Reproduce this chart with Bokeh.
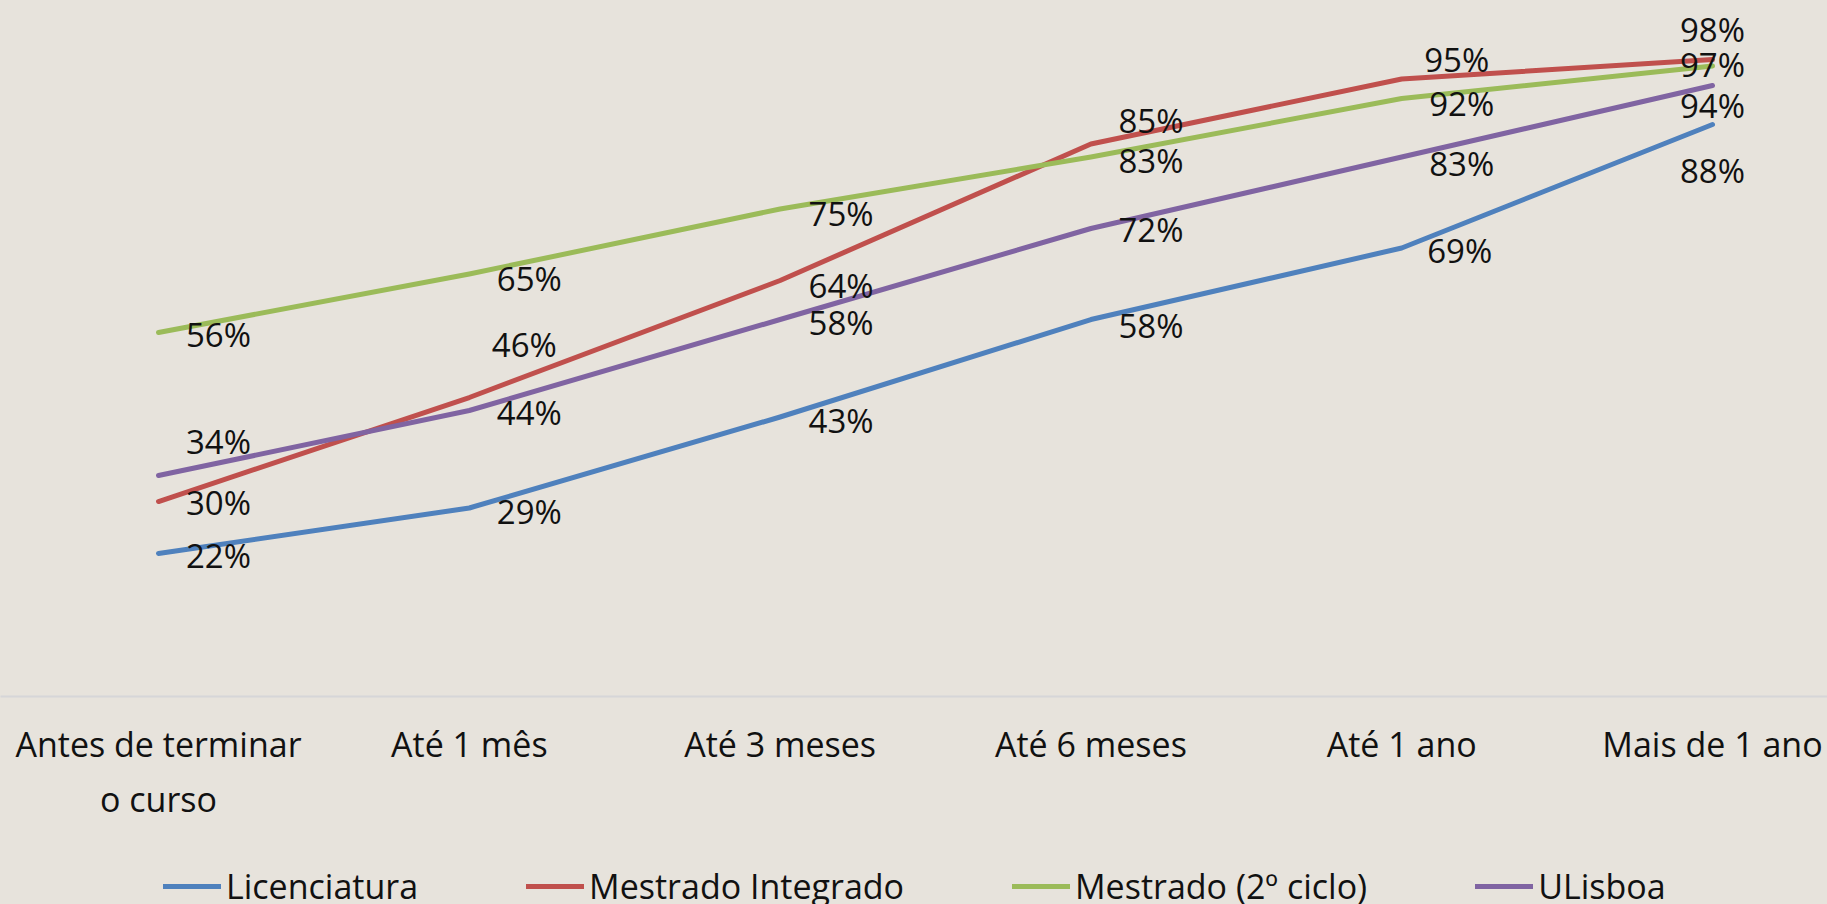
from bokeh.plotting import figure
from bokeh.layouts import column
from bokeh.models import ColumnDataSource, Range1d, FixedTicker, Legend, LegendItem
from bokeh.core.properties import value
from bokeh.embed import file_html
from bokeh.resources import INLINE

# ---------------- data ----------------
categories = ["Antes de terminar\no curso", "Até 1 mês", "Até 3 meses",
              "Até 6 meses", "Até 1 ano", "Mais de 1 ano"]
series_names = ["Licenciatura", "Mestrado Integrado", "Mestrado (2º ciclo)", "ULisboa"]
licenciatura = [22, 29, 43, 58, 69, 88]
mestrado_integrado = [30, 46, 64, 85, 95, 98]
mestrado_2ciclo = [56, 65, 75, 83, 92, 97]
ulisboa = [34, 44, 58, 72, 83, 94]

# ---------------- style ----------------
colors = ["#4F81BD", "#C0504D", "#9BBB59", "#8064A2"]
BG = "#E7E3DC"
FONT = "Open Sans"
TXT = "#111111"

# data-label offsets in screen pixels (dx right, dy down)
label_dx = [
    [60, 60, 61, 60, 58, 0],
    [60, 55, 61, 60, 55, 0],
    [60, 60, 61, 60, 60, 0],
    [60, 60, 61, 60, 60, 0],
]
label_dy = [
    [2, 3, 3, 6, 2, 46],
    [1, -53, 5, -24, -20, -30],
    [2, 4, 4, 3, 5, -2],
    [-34, 2, 3, 1, 6, 20],
]

all_series = [licenciatura, mestrado_integrado, mestrado_2ciclo, ulisboa]
xs = list(range(len(categories)))

W = 1827
MAIN_H = 852
LEG_H = 904 - MAIN_H

p = figure(width=W, height=MAIN_H, output_backend="svg", toolbar_location=None,
           x_range=Range1d(-0.5084, 5.3700), y_range=Range1d(0, 107.08),
           y_axis_location=None,
           min_border_left=0, min_border_right=0, min_border_top=0,
           min_border_bottom=MAIN_H - 696)
p.background_fill_color = BG
p.border_fill_color = BG
p.outline_line_color = None
p.xgrid.visible = False
p.ygrid.visible = False
p.styles = {"background-color": BG}

ax = p.xaxis[0]
ax.ticker = FixedTicker(ticks=xs)
ax.major_label_overrides = {i: c for i, c in enumerate(categories)}
ax.axis_line_color = "#D6D6D8"
ax.axis_line_width = 2
ax.major_tick_line_color = None
ax.minor_tick_line_color = None
ax.major_tick_out = 0
ax.major_tick_in = 0
ax.major_label_standoff = 24
ax.major_label_text_font = FONT
ax.major_label_text_font_size = "34px"
ax.major_label_text_color = TXT

for vals, col in zip(all_series, colors):
    p.line(x=xs, y=vals, line_color=col, line_width=5,
           line_cap="round", line_join="round")

lx, ly, lt, ldx, ldy = [], [], [], [], []
for s, vals in enumerate(all_series):
    for i, v in enumerate(vals):
        lx.append(xs[i])
        ly.append(v)
        lt.append(f"{v}%")
        ldx.append(label_dx[s][i])
        ldy.append(label_dy[s][i])
lsrc = ColumnDataSource(dict(x=lx, y=ly, t=lt, dx=ldx, dy=ldy))
p.text(x="x", y="y", text="t", x_offset="dx", y_offset="dy", source=lsrc,
       text_align="center", text_baseline="middle",
       text_font=value(FONT), text_font_size="33px", text_color=TXT)

# ---------------- legend strip ----------------
pl = figure(width=W, height=LEG_H, output_backend="svg", toolbar_location=None,
            x_range=Range1d(0, 1), y_range=Range1d(0, 1),
            x_axis_location=None, y_axis_location=None,
            min_border_left=0, min_border_right=0, min_border_top=0,
            min_border_bottom=0)
pl.background_fill_color = BG
pl.border_fill_color = BG
pl.outline_line_color = None
pl.xgrid.visible = False
pl.ygrid.visible = False
pl.styles = {"background-color": BG}

# legend keys: line renderers kept outside the visible range
keys = []
for col in colors:
    keys.append(pl.line(x=[-5, -4], y=[-5, -5], line_color=col, line_width=5,
                        line_cap="round", line_join="round"))

legend = Legend(
    items=[LegendItem(label=n, renderers=[r]) for n, r in zip(series_names, keys)],
    orientation="horizontal", location=(163, -5),
    padding=0, margin=0, spacing=108, label_standoff=5,
    glyph_width=58, glyph_height=20,
    label_text_font=FONT, label_text_font_size="34px", label_text_color=TXT,
    background_fill_alpha=0, border_line_color=None,
)
pl.add_layout(legend)

layout = column(p, pl, spacing=0)
layout.styles = {"background-color": BG}
open("out.html", "w").write(file_html(layout, INLINE))
